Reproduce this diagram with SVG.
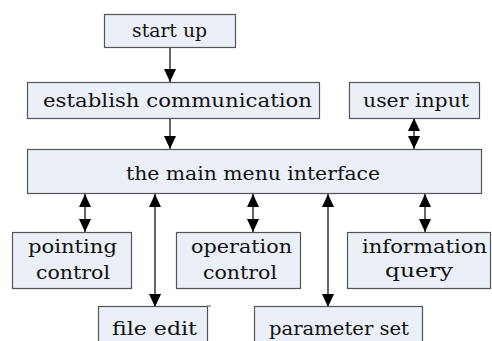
<svg xmlns="http://www.w3.org/2000/svg" width="492" height="341" viewBox="0 0 492 341">
<style>
.box{fill:#ebeff8;stroke:#555;stroke-width:1.2}
.t{font-family:"DejaVu Serif","Liberation Serif",serif;font-size:18.5px;fill:#111;text-anchor:start}
.c{stroke:#000;stroke-width:1.2;fill:none}
</style>
<defs>
<marker id="ah" viewBox="0 0 13 12" refX="13" refY="6" markerWidth="13" markerHeight="12" markerUnits="userSpaceOnUse" orient="auto-start-reverse">
<path d="M0,0 L13,6 L0,12 z" fill="#000"/>
</marker>
</defs>
<rect width="492" height="341" fill="#fff"/>
<g id="connectors">
<line class="c" x1="170" y1="47" x2="170" y2="82" marker-end="url(#ah)"/>
<line class="c" x1="170" y1="118" x2="170" y2="149" marker-end="url(#ah)"/>
<line class="c" x1="414" y1="118" x2="414" y2="149" marker-start="url(#ah)" marker-end="url(#ah)"/>
<line class="c" x1="85" y1="194" x2="85" y2="232" marker-start="url(#ah)" marker-end="url(#ah)"/>
<line class="c" x1="155" y1="194" x2="155" y2="307" marker-start="url(#ah)" marker-end="url(#ah)"/>
<line class="c" x1="253" y1="194" x2="253" y2="232" marker-start="url(#ah)" marker-end="url(#ah)"/>
<line class="c" x1="328" y1="194" x2="328" y2="307" marker-start="url(#ah)" marker-end="url(#ah)"/>
<line class="c" x1="425" y1="194" x2="425" y2="232" marker-start="url(#ah)" marker-end="url(#ah)"/>
</g>
<g id="start-up">
<rect class="box" x="104.5" y="14.5" width="131" height="33"/>
<text class="t" x="132" y="37" textLength="75" lengthAdjust="spacingAndGlyphs">start up</text>
</g>
<g id="establish-communication">
<rect class="box" x="27.5" y="82.5" width="292" height="36"/>
<text class="t" x="43" y="107" textLength="269" lengthAdjust="spacingAndGlyphs">establish communication</text>
</g>
<g id="user-input">
<rect class="box" x="349.5" y="82.5" width="130" height="36"/>
<text class="t" x="363" y="107" textLength="106" lengthAdjust="spacingAndGlyphs">user input</text>
</g>
<g id="main-menu">
<rect class="box" x="27.5" y="149.5" width="454" height="44"/>
<text class="t" x="126" y="180" textLength="254" lengthAdjust="spacingAndGlyphs">the main menu interface</text>
</g>
<g id="pointing-control">
<rect class="box" x="12.5" y="232.5" width="119" height="56"/>
<text class="t" x="28" y="253" textLength="89" lengthAdjust="spacingAndGlyphs">pointing</text>
<text class="t" x="36" y="279" textLength="74" lengthAdjust="spacingAndGlyphs">control</text>
</g>
<g id="operation-control">
<rect class="box" x="176.5" y="232.5" width="124" height="56"/>
<text class="t" x="191" y="253" textLength="101" lengthAdjust="spacingAndGlyphs">operation</text>
<text class="t" x="203" y="279" textLength="74" lengthAdjust="spacingAndGlyphs">control</text>
</g>
<g id="information-query">
<rect class="box" x="347.5" y="232.5" width="143" height="56"/>
<text class="t" x="362" y="253" textLength="125" lengthAdjust="spacingAndGlyphs">information</text>
<text class="t" x="385" y="277" textLength="68" lengthAdjust="spacingAndGlyphs">query</text>
</g>
<g id="file-edit">
<rect class="box" x="98.5" y="306.5" width="109" height="40"/>
<line x1="207" y1="306" x2="211" y2="306" stroke="#555" stroke-width="1"/>
<text class="t" x="112" y="335" textLength="85" lengthAdjust="spacingAndGlyphs">file edit</text>
</g>
<g id="parameter-set">
<rect class="box" x="254.5" y="306.5" width="168" height="40"/>
<text class="t" x="269" y="335" textLength="140" lengthAdjust="spacingAndGlyphs">parameter set</text>
</g>
</svg>
